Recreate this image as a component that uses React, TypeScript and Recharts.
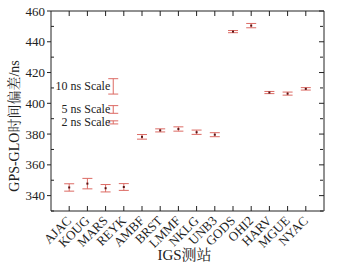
import React from "react";
import {
  ScatterChart,
  Scatter,
  XAxis,
  YAxis,
  ErrorBar,
} from "recharts";

const stations = [
  "AJAC", "KOUG", "MARS", "REYK", "AMBF", "BRST", "LMMF",
  "NKLG", "UNB3", "GODS", "OHI2", "HARV", "MGUE", "NYAC",
];
const offsets = [345.3, 347.8, 344.8, 345.6, 378.2, 382.4, 383.3, 381.2, 379.6, 446.6, 450.5, 407.0, 406.3, 409.4];
const errors = [2.4, 3.4, 2.4, 2.2, 1.5, 1.0, 1.4, 1.4, 1.3, 0.7, 1.4, 0.7, 1.0, 0.8];

const scaleLabels = ["10 ns Scale", "5 ns Scale", "2 ns Scale"];
const scaleCenters = [411, 396, 387.6];
const scaleHalf = [5, 2.5, 1];
const scaleX = 3.42;

const yMajor = [340, 360, 380, 400, 420, 440, 460];
const yMinor = [330, 350, 370, 390, 410, 430, 450];
const xTicks = stations.map((_, i) => i + 1);

const data = stations.map((s, i) => ({ x: i + 1, y: offsets[i], err: errors[i], name: s }));
const scaleData = scaleLabels.map((l, i) => ({ x: scaleX, y: scaleCenters[i], err: scaleHalf[i], label: l }));

const font = '"Liberation Serif", "Times New Roman", "Noto Serif CJK SC", "Noto Sans CJK SC", serif';
const barColor = "#dc6a64";
const ink = "#222";

const XTick = (props: any) => {
  const { x, y, payload } = props;
  const ax = x + 3;
  const ay = y + 8.5;
  return (
    <text
      x={ax}
      y={ay}
      textAnchor="end"
      fontSize={13}
      fontFamily={font}
      fill={ink}
      transform={`rotate(-45 ${ax} ${ay})`}
    >
      {stations[payload.value - 1]}
    </text>
  );
};

const Dot = (props: any) => {
  const { cx, cy } = props;
  return <rect x={cx - 1} y={cy - 1} width={2} height={2} fill="#5a1414" />;
};

const ScaleText = (props: any) => {
  const { cx, cy, payload } = props;
  return (
    <text x={cx - 3} y={cy} dy={4} textAnchor="end" fontSize={12} fontFamily={font} fill={ink}>
      {payload.label}
    </text>
  );
};

const Empty = () => <g />;
const none = () => "";

export default function App() {
  return (
    <div style={{ position: "absolute", left: 0, top: 0, background: "#fff" }}>
      <ScatterChart width={342} height={264} margin={{ top: 11, right: 18, left: 0, bottom: 0 }}>
        <XAxis
          xAxisId="b"
          type="number"
          dataKey="x"
          domain={[0, 15]}
          ticks={xTicks}
          interval={0}
          height={53}
          tickLine={false}
          tickSize={0}
          tickMargin={2}
          axisLine={{ stroke: ink }}
          tick={<XTick />}
          label={{ value: "IGS测站", position: "insideBottom", offset: 4, fontSize: 15, fontFamily: font, fill: ink, dx: -3 }}
        />
        <XAxis
          xAxisId="bi"
          type="number"
          dataKey="x"
          domain={[0, 15]}
          ticks={xTicks}
          interval={0}
          mirror
          height={1}
          tickSize={5}
          tickLine={{ stroke: ink }}
          axisLine={false}
          tickFormatter={none}
        />
        <XAxis
          xAxisId="t"
          orientation="top"
          type="number"
          dataKey="x"
          domain={[0, 15]}
          ticks={xTicks}
          interval={0}
          mirror
          height={1}
          tickSize={5}
          tickLine={{ stroke: ink }}
          axisLine={{ stroke: ink }}
          tickFormatter={none}
        />
        <YAxis
          yAxisId="l"
          type="number"
          dataKey="y"
          domain={[330, 460]}
          ticks={yMajor}
          interval={0}
          width={51}
          tickSize={4}
          tickMargin={2}
          tickLine={{ stroke: ink }}
          axisLine={{ stroke: ink }}
          tick={{ fontSize: 13, fontFamily: font, fill: ink }}
          label={({ viewBox }: any) => (
            <text
              x={viewBox.x + 19}
              y={viewBox.y + viewBox.height / 2 + 15}
              textAnchor="middle"
              fontSize={14}
              fontFamily={font}
              fill={ink}
              transform={`rotate(-90 ${viewBox.x + 19} ${viewBox.y + viewBox.height / 2 + 15})`}
            >
              GPS-GLO时间偏差/ns
            </text>
          )}
        />
        <YAxis
          yAxisId="lm"
          type="number"
          dataKey="y"
          domain={[330, 460]}
          ticks={yMinor}
          interval={0}
          mirror
          width={1}
          tickSize={3}
          tickLine={{ stroke: ink }}
          axisLine={false}
          tickFormatter={none}
        />
        <YAxis
          yAxisId="r"
          orientation="right"
          type="number"
          dataKey="y"
          domain={[330, 460]}
          ticks={yMajor}
          interval={0}
          mirror
          width={1}
          tickSize={5}
          tickLine={{ stroke: ink }}
          axisLine={{ stroke: ink }}
          tickFormatter={none}
        />
        <YAxis
          yAxisId="rm"
          orientation="right"
          type="number"
          dataKey="y"
          domain={[330, 460]}
          ticks={yMinor}
          interval={0}
          mirror
          width={1}
          tickSize={3}
          tickLine={{ stroke: ink }}
          axisLine={false}
          tickFormatter={none}
        />
        <Scatter xAxisId="bi" yAxisId="lm" data={data} shape={<Empty />} isAnimationActive={false} />
        <Scatter xAxisId="t" yAxisId="r" data={data} shape={<Empty />} isAnimationActive={false} />
        <Scatter xAxisId="t" yAxisId="rm" data={data} shape={<Empty />} isAnimationActive={false} />
        <Scatter xAxisId="b" yAxisId="l" data={data} shape={<Dot />} isAnimationActive={false}>
          <ErrorBar dataKey="err" direction="y" width={5} stroke={barColor} strokeWidth={1} isAnimationActive={false} />
        </Scatter>
        <Scatter xAxisId="b" yAxisId="l" data={scaleData} shape={<ScaleText />} isAnimationActive={false}>
          <ErrorBar dataKey="err" direction="y" width={5} stroke={barColor} strokeWidth={1} isAnimationActive={false} />
        </Scatter>
      </ScatterChart>
    </div>
  );
}
